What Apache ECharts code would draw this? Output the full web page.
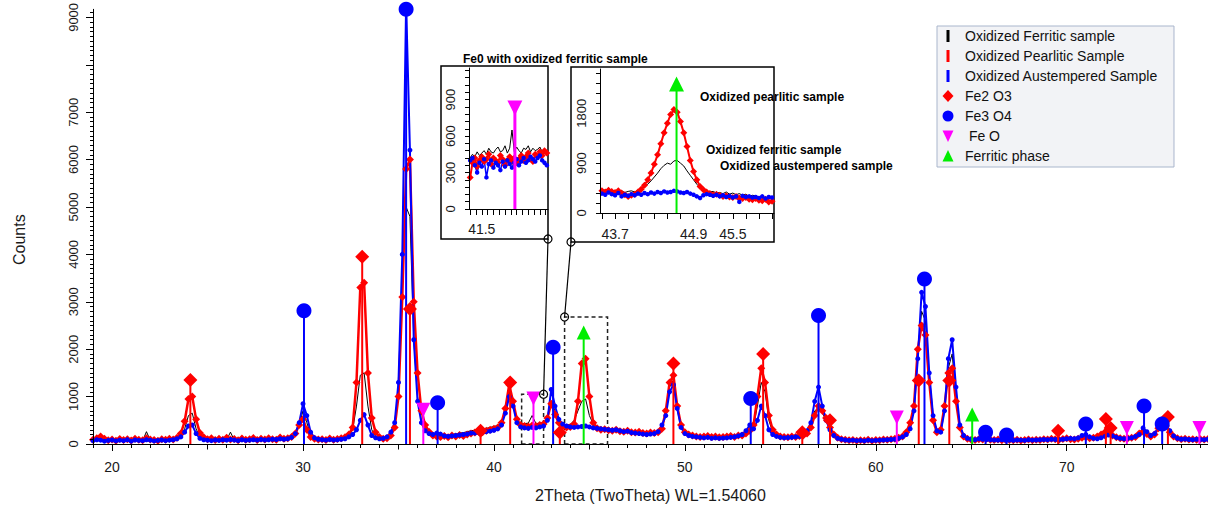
<!DOCTYPE html>
<html>
<head>
<meta charset="utf-8">
<script src="https://cdn.jsdelivr.net/npm/echarts@6/dist/echarts.min.js"></script>
<style>
    html, body { margin: 0; padding: 0; background: #fff; }
    #xrd { width: 1208px; height: 508px; }
</style>
</head>
<body>
<div id="xrd"></div>
<script>
// scans are sampled on a regular 2theta grid
var scanStart = 19.0;
var scanStep = 0.2;

var ferriticCounts = [
    70, 80, 75, 65, 80, 70, 85, 75, 70, 80,
    75, 80, 90, 70, 260, 80, 75, 70, 85, 80,
    85, 90, 100, 160, 320, 600, 650, 320, 150, 90,
    80, 85, 75, 90, 80, 85, 250, 80, 75, 85,
    80, 85, 90, 85, 80, 95, 90, 100, 95, 100,
    100, 110, 130, 200, 400, 700, 450, 200, 120, 100,
    90, 85, 95, 90, 100, 110, 120, 170, 300, 800,
    1450, 1500, 800, 300, 160, 120, 110, 130, 200, 400,
    1200, 3500, 5000, 4800, 2200, 1000, 500, 300, 230, 200,
    210, 200, 180, 190, 200, 210, 230, 240, 260, 280,
    290, 300, 310, 330, 350, 370, 390, 450, 700, 1100,
    850, 500, 420, 430, 440, 600, 430, 440, 450, 550,
    900, 700, 500, 420, 400, 410, 500, 700, 900, 950,
    600, 420, 380, 340, 320, 310, 300, 290, 280, 270,
    270, 260, 250, 240, 230, 230, 240, 250, 280, 350,
    650, 1200, 1350, 750, 380, 230, 190, 170, 160, 150,
    140, 145, 135, 140, 130, 135, 140, 150, 160, 180,
    200, 250, 330, 380, 800, 1300, 1100, 500, 250, 180,
    150, 140, 145, 150, 160, 170, 190, 250, 400, 700,
    750, 650, 500, 320, 190, 120, 95, 85, 80, 85,
    75, 80, 70, 85, 75, 80, 85, 90, 95, 100,
    105, 125, 155, 230, 400, 750, 1900, 2800, 2600, 1400,
    550, 260, 280, 750, 1600, 1900, 1000, 380, 170, 115,
    95, 90, 105, 95, 100, 90, 85, 90, 85, 90,
    80, 80, 85, 80, 80, 90, 85, 85, 90, 95,
    95, 105, 100, 95, 100, 115, 110, 105, 120, 150,
    170, 140, 125, 130, 170, 210, 200, 170, 140, 120,
    110, 120, 130, 155, 210, 300, 230, 170, 210, 340,
    450, 400, 260, 165, 120, 100, 105, 95, 95, 100,
    95, 95, 100
];

var pearliticCounts = [
    90, 120, 160, 110, 80, 95, 70, 105, 85, 100,
    75, 110, 90, 80, 120, 95, 85, 70, 100, 90,
    110, 95, 130, 220, 480, 950, 1000, 520, 230, 140,
    100, 120, 85, 110, 90, 130, 95, 105, 80, 115,
    90, 100, 125, 85, 110, 95, 120, 100, 90, 135,
    110, 120, 150, 220, 400, 520, 300, 150, 110, 95,
    100, 85, 115, 90, 105, 120, 140, 200, 350, 1300,
    3300, 3400, 1500, 550, 250, 150, 110, 120, 180, 350,
    1000, 3100, 5800, 6000, 3000, 1500, 700, 400, 260, 180,
    160, 150, 170, 140, 180, 160, 190, 170, 200, 220,
    240, 260, 250, 280, 300, 320, 350, 450, 750, 1250,
    900, 520, 400, 380, 370, 390, 380, 400, 420, 550,
    850, 620, 450, 380, 350, 360, 420, 900, 1700, 1800,
    1000, 450, 330, 300, 310, 290, 280, 300, 270, 260,
    280, 250, 240, 260, 230, 220, 240, 230, 250, 320,
    700, 1300, 1450, 800, 400, 250, 200, 180, 160, 150,
    160, 170, 150, 160, 140, 150, 160, 170, 150, 180,
    180, 220, 280, 400, 1000, 1600, 1300, 600, 300, 200,
    160, 150, 140, 160, 150, 170, 180, 220, 350, 600,
    800, 700, 550, 350, 200, 130, 100, 90, 80, 85,
    70, 80, 75, 90, 70, 85, 80, 95, 90, 100,
    110, 130, 160, 250, 450, 800, 2000, 2500, 2300, 1300,
    500, 250, 300, 800, 1500, 1600, 900, 350, 160, 110,
    90, 85, 100, 95, 110, 90, 85, 95, 80, 90,
    85, 80, 90, 75, 85, 95, 80, 90, 85, 100,
    95, 110, 100, 90, 105, 120, 100, 95, 110, 130,
    140, 120, 130, 160, 200, 250, 230, 180, 140, 120,
    110, 120, 130, 150, 220, 260, 210, 160, 200, 330,
    420, 380, 250, 160, 120, 100, 110, 95, 100, 90,
    100, 95, 105
];

var austemperedCounts = [
    70, 90, 80, 60, 75, 85, 65, 80, 70, 90,
    60, 85, 75, 70, 90, 80, 65, 75, 85, 70,
    80, 90, 110, 150, 250, 380, 400, 220, 120, 90,
    80, 70, 85, 75, 90, 80, 95, 85, 70, 90,
    75, 85, 90, 80, 95, 85, 90, 100, 95, 110,
    100, 110, 140, 220, 450, 850, 600, 250, 130, 100,
    90, 80, 95, 85, 90, 100, 110, 150, 200, 300,
    500, 620, 400, 180, 130, 110, 120, 150, 250, 450,
    1300, 4000, 9300, 6200, 2200, 900, 450, 280, 220, 200,
    230, 210, 170, 160, 170, 180, 190, 200, 210, 230,
    230, 240, 250, 260, 270, 290, 320, 400, 650, 1000,
    800, 450, 360, 340, 330, 350, 340, 360, 380, 500,
    1150, 800, 520, 420, 380, 360, 350, 360, 370, 380,
    360, 340, 330, 320, 310, 300, 290, 300, 280, 260,
    270, 240, 230, 220, 210, 200, 210, 220, 260, 400,
    600, 1100, 1250, 750, 350, 220, 180, 160, 150, 140,
    130, 140, 120, 130, 120, 125, 130, 140, 150, 170,
    200, 280, 400, 320, 500, 800, 600, 300, 200, 160,
    140, 130, 135, 140, 150, 160, 200, 280, 450, 900,
    1200, 800, 500, 300, 180, 120, 100, 85, 75, 80,
    70, 75, 65, 80, 70, 75, 80, 85, 90, 95,
    100, 120, 150, 200, 320, 700, 1800, 3200, 2900, 1500,
    600, 280, 250, 700, 1800, 2200, 1200, 400, 180, 120,
    100, 90, 110, 100, 95, 90, 85, 80, 90, 85,
    80, 75, 85, 80, 75, 90, 80, 85, 90, 95,
    90, 100, 95, 90, 100, 110, 120, 110, 130, 180,
    200, 150, 120, 110, 130, 160, 190, 170, 140, 120,
    110, 120, 130, 160, 200, 340, 260, 180, 220, 350,
    480, 420, 280, 170, 120, 100, 105, 95, 90, 100,
    95, 90, 100
];

// phase identification marks [2theta, counts]
var fe2o3Peaks = [[24.1, 1350], [33.1, 3950], [35.6, 2850], [39.3, 280], [40.85, 1300], [43.45, 240],
    [49.4, 1700], [54.1, 1900], [56.15, 250], [57.6, 500], [62.25, 1340], [63.85, 1340],
    [69.55, 280], [72.05, 530], [72.3, 340], [75.3, 570]];
var fe3o4Peaks = [[30.05, 2810], [35.4, 9170], [37.05, 870], [43.1, 2040], [53.45, 960],
    [57.0, 2710], [62.55, 3480], [65.75, 250], [66.85, 190], [71.0, 420], [74.05, 800], [75.0, 420]];
var feoPeaks = [[36.3, 720], [42.07, 960], [61.1, 560], [73.15, 340], [76.95, 340]];
var ferritePeaks = [[44.7, 2350], [65.05, 620]];

// inset 1: FeO region of the ferritic sample
var inset1Start = 41.30;
var inset1Step = 0.04;
var inset1Ferritic = [420, 450, 430, 470, 440, 460, 480, 450, 500, 470, 460, 490, 510, 470, 480, 520, 460,
    500, 650, 470, 510, 480, 460, 500, 490, 520, 470, 500, 480, 490, 510, 470, 480, 460];
var inset1Pearlitic = [260, 380, 420, 350, 400, 430, 390, 410, 450, 370, 420, 400, 380, 440, 410, 360, 400,
    430, 390, 420, 380, 410, 440, 400, 430, 460, 420, 390, 450, 430, 470, 440, 480, 460];
var inset1Austempered = [400, 420, 360, 300, 380, 350, 410, 260, 370, 400, 340, 380, 360, 320, 390, 350, 400,
    370, 340, 380, 410, 360, 390, 420, 380, 400, 430, 410, 390, 420, 440, 400, 380, 360];
var inset1FeO = [[42.07, 830]];

// inset 2: ferrite (110) region
var inset2Start = 43.50;
var inset2Step = 0.05;
var inset2Ferritic = [380, 420, 400, 390, 410, 380, 400, 370, 390, 400, 380,
    410, 430, 470, 520, 580, 650, 720, 800, 860, 900,
    880, 940, 950, 900, 850, 760, 680, 600, 520, 460,
    420, 400, 380, 390, 360, 370, 350, 380, 340, 360, 330, 350, 320, 340, 300, 320, 310, 290, 300, 280, 290, 270];
var inset2Pearlitic = [400, 380, 410, 390, 370, 400, 360, 330, 300, 320, 340,
    380, 430, 500, 600, 720, 880, 1050, 1250, 1450, 1620,
    1780, 1870, 1820, 1650, 1450, 1200, 950, 750, 600, 480,
    420, 380, 350, 330, 340, 320, 300, 310, 290, 280, 300, 270, 260, 280, 250, 240, 260, 230, 220, 250, 200, 210];
var inset2Austempered = [350, 330, 370, 340, 320, 360, 300, 330, 310, 340,
    320, 350, 330, 360, 340, 370, 350, 380, 360, 390,
    370, 380, 400, 390, 370, 360, 380, 350, 330, 300,
    270, 320, 340, 330, 310, 330, 300, 320, 290, 310,
    280, 300, 200, 310, 290, 300, 280, 290, 270, 300,
    260, 290, 280];
var inset2Ferrite = [[44.64, 2330]];

// zoomed windows drawn on the main pattern: [from, to, top counts]
var zoomBoxes = [[41.45, 42.6, 1050], [43.7, 45.95, 2680]];

var xLabels = [20, 30, 40, 50, 60, 70];
var xHalfTicks = [25, 35, 45, 55, 65, 75];
var yLabels = [0, 1000, 2000, 3000, 4000, 5000, 6000, 7000, 9000];
var yMajorTicks = [0, 1000, 2000, 3000, 4000, 5000, 6000, 7000, 8000, 9000];
var inset1XLabels = [41.5];
var inset1YLabels = [0, 300, 600, 900];
var inset2XLabels = [43.7, 44.9, 45.5];
var inset2YLabels = [0, 900, 1800];

var FONT = "'Liberation Sans', Arial, sans-serif";

function toSeriesData(start, step, counts) {
    var out = [];
    for (var i = 0; i < counts.length; i++) {
        out.push([Math.round((start + i * step) * 1000) / 1000, counts[i]]);
    }
    return out;
}

function range(from, to, step) {
    var out = [];
    var n = Math.round((to - from) / step);
    for (var i = 0; i <= n; i++) {
        out.push(Math.round((from + i * step) * 1000) / 1000);
    }
    return out;
}

function sticks(peaks, color) {
    return peaks.map(function(p) {
        return { value: p, itemStyle: { color: color } };
    });
}

function lineSeries(name, data, color, symbol, size, width, xi, yi) {
    return {
        name: name,
        type: "line",
        xAxisIndex: xi,
        yAxisIndex: yi,
        data: data,
        symbol: symbol,
        symbolSize: size,
        showSymbol: symbol != "none",
        color: color,
        lineStyle: { color: color, width: width },
        itemStyle: { color: color },
        z: 2,
    };
}

function markerSeries(name, data, color, symbol, size, rotate, xi, yi) {
    return {
        name: name,
        type: "scatter",
        xAxisIndex: xi,
        yAxisIndex: yi,
        data: data,
        symbol: symbol,
        symbolSize: size,
        symbolRotate: rotate,
        clip: false,
        color: color,
        itemStyle: { color: color, opacity: 1 },
        z: 5,
    };
}

function stickSeries(name, data, width, xi, yi) {
    return {
        name: name,
        type: "bar",
        xAxisIndex: xi,
        yAxisIndex: yi,
        data: data,
        barWidth: width,
        z: 4,
    };
}

function valueAxis(grid, min, max, tickVals, tickLen, labelVals, opts) {
    var ax = {
        type: "value",
        gridIndex: grid,
        min: min,
        max: max,
        z: 6,
        splitLine: { show: false },
        axisLine: { show: true, lineStyle: { color: "#000", width: 1 } },
        axisTick: { show: true, customValues: tickVals, length: tickLen, lineStyle: { color: "#000" } },
        axisLabel: labelVals ?
            {
                show: true,
                customValues: labelVals,
                color: "#1a1a1a",
                fontFamily: FONT,
                fontSize: 13,
                formatter: function(v) { return String(v); },
            } :
            { show: false },
    };
    for (var k in opts) ax[k] = opts[k];
    return ax;
}

// legend icons; the outer moveTo points only fix the icon box
var barIcon = "path://M0,0M18,13M4.5,0.5L7.5,0.5L7.5,12.5L4.5,12.5Z";
var diamondIcon = "path://M0,0M18,13M6,0.5L11.5,6.5L6,12.5L0.5,6.5Z";
var circleIcon = "path://M0,0M18,13M0.5,6.5A5.5,5.5,0,1,0,11.5,6.5A5.5,5.5,0,1,0,0.5,6.5Z";
var downIcon = "path://M0,0M18,13M0.5,1L11.5,1L6,12.5Z";
var upIcon = "path://M0,0M18,13M6,0.5L11.5,12L0.5,12Z";

var myChart = echarts.init(document.getElementById("xrd"), null, { renderer: "svg" });

var xMain = valueAxis(0, 19, 77.4, range(19, 77, 1), 4, xLabels, {
    name: "2Theta (TwoTheta) WL=1.54060",
    nameLocation: "middle",
    nameGap: 43,
    nameTextStyle: { fontFamily: FONT, fontSize: 16, color: "#1a1a1a" },
});
xMain.axisLabel.fontSize = 14;
xMain.axisLabel.margin = 16;

var xMainMajor = valueAxis(0, 19, 77.4, xLabels, 7, null, { position: "bottom" });
xMainMajor.axisLine.show = false;
var xMainHalf = valueAxis(0, 19, 77.4, xHalfTicks, 5.5, null, { position: "bottom" });
xMainHalf.axisLine.show = false;

var yMain = valueAxis(0, 0, 9170, range(0, 9100, 100), 3, yLabels, {
    name: "Counts",
    nameLocation: "middle",
    nameGap: 66,
    nameTextStyle: { fontFamily: FONT, fontSize: 16, color: "#1a1a1a", padding: [0, 26, 0, 0] },
});
yMain.axisLabel.rotate = 90;
yMain.axisLabel.margin = 13;

var yMainMajor = valueAxis(0, 0, 9170, yMajorTicks, 7, null, { position: "left" });
yMainMajor.axisLine.show = false;

var xIn1 = valueAxis(1, 41.28, 42.64, range(41.3, 42.6, 0.1), 6, inset1XLabels, {});
xIn1.axisLabel.fontSize = 14;
xIn1.axisLabel.margin = 13;
var yIn1 = valueAxis(1, 0, 1160, range(0, 1140, 60), 4, inset1YLabels, {});
yIn1.axisLabel.rotate = 90;
yIn1.axisLabel.margin = 12;

var xIn2 = valueAxis(2, 43.47, 46.13, range(43.5, 46.1, 0.2), 6, inset2XLabels, {});
xIn2.axisLabel.fontSize = 14;
xIn2.axisLabel.margin = 14;
var yIn2 = valueAxis(2, 0, 2600, range(0, 2520, 180), 4, inset2YLabels, {});
yIn2.axisLabel.rotate = 90;
yIn2.axisLabel.margin = 12;

var ferritic = lineSeries("Oxidized Ferritic sample", toSeriesData(scanStart, scanStep, ferriticCounts), "#000000", "none", 0, 1, 0, 0);
ferritic.markArea = {
    silent: true,
    label: { show: false },
    itemStyle: { color: "rgba(0,0,0,0)", borderColor: "#222", borderWidth: 1.5, borderType: [4, 3] },
    data: zoomBoxes.map(function(b) {
        return [{ coord: [b[0], 0] }, { coord: [b[1], b[2]] }];
    }),
};

var mainSticks = []
    .concat(sticks(fe2o3Peaks, "#ff0000"))
    .concat(sticks(fe3o4Peaks, "#0000ff"))
    .concat(sticks(feoPeaks, "#ff00ff"))
    .concat(sticks(ferritePeaks, "#00ee00"));

option = {
    animation: false,
    backgroundColor: "#ffffff",
    textStyle: { fontFamily: FONT },
    grid: [
        { left: 93, top: 8, right: 0, bottom: 60 },
        { left: 469, top: 68, width: 79, height: 141 },
        { left: 600, top: 69, width: 174, height: 144 },
    ],
    xAxis: [xMain, xMainMajor, xIn1, xIn2, xMainHalf],
    yAxis: [yMain, yMainMajor, yIn1, yIn2],
    legend: {
        orient: "vertical",
        left: 937,
        top: 26,
        padding: [3, 16, 4, 5],
        itemWidth: 18,
        itemHeight: 13,
        itemGap: 6,
        selectedMode: false,
        backgroundColor: "#f2f3f6",
        borderColor: "#a9b6cc",
        borderWidth: 1,
        textStyle: { fontFamily: FONT, fontSize: 14, color: "#111" },
        data: [
            { name: "Oxidized Ferritic sample", icon: barIcon },
            { name: "Oxidized Pearlitic Sample", icon: barIcon },
            { name: "Oxidized Austempered Sample", icon: barIcon },
            { name: "Fe2 O3", icon: diamondIcon },
            { name: "Fe3 O4", icon: circleIcon },
            { name: " Fe O", icon: downIcon },
            { name: "Ferritic phase", icon: upIcon },
        ],
    },
    series: [
        ferritic,
        lineSeries("Oxidized Pearlitic Sample", toSeriesData(scanStart, scanStep, pearliticCounts), "#ff0000", "diamond", 8, 2.5, 0, 0),
        lineSeries("Oxidized Austempered Sample", toSeriesData(scanStart, scanStep, austemperedCounts), "#0000ff", "circle", 5, 2, 0, 0),
        stickSeries("reference lines", mainSticks, 2, 0, 0),
        markerSeries("Fe2 O3", fe2o3Peaks, "#ff0000", "diamond", 14, 0, 0, 0),
        markerSeries("Fe3 O4", fe3o4Peaks, "#0000ff", "circle", 15, 0, 0, 0),
        markerSeries(" Fe O", feoPeaks, "#ff00ff", "triangle", 14, 180, 0, 0),
        markerSeries("Ferritic phase", ferritePeaks, "#00ee00", "triangle", 14, 0, 0, 0),

        lineSeries("inset1 ferritic", toSeriesData(inset1Start, inset1Step, inset1Ferritic), "#000000", "none", 0, 1, 2, 2),
        lineSeries("inset1 pearlitic", toSeriesData(inset1Start, inset1Step, inset1Pearlitic), "#ff0000", "diamond", 7, 2, 2, 2),
        lineSeries("inset1 austempered", toSeriesData(inset1Start, inset1Step, inset1Austempered), "#0000ff", "circle", 4.5, 1.5, 2, 2),
        stickSeries("inset1 line", sticks(inset1FeO, "#ff00ff"), 3, 2, 2),
        markerSeries("inset1 FeO", inset1FeO, "#ff00ff", "triangle", 15, 180, 2, 2),

        lineSeries("inset2 ferritic", toSeriesData(inset2Start, inset2Step, inset2Ferritic), "#000000", "none", 0, 1, 3, 3),
        lineSeries("inset2 pearlitic", toSeriesData(inset2Start, inset2Step, inset2Pearlitic), "#ff0000", "diamond", 7, 2, 3, 3),
        lineSeries("inset2 austempered", toSeriesData(inset2Start, inset2Step, inset2Austempered), "#0000ff", "circle", 4.5, 1.5, 3, 3),
        stickSeries("inset2 line", sticks(inset2Ferrite, "#00ee00"), 2, 3, 3),
        markerSeries("inset2 ferrite", inset2Ferrite, "#00ee00", "triangle", 15, 0, 3, 3),
    ],
};
myChart.setOption(option);

// frames, notes and leader lines of the two insets
var box1 = { x: 441, y: 66, w: 107, h: 173 };
var box2 = { x: 571, y: 67, w: 203, h: 175 };
var corner1 = myChart.convertToPixel({ seriesIndex: 0 }, [zoomBoxes[0][1], zoomBoxes[0][2]]);
var corner2 = myChart.convertToPixel({ seriesIndex: 0 }, [zoomBoxes[1][0], zoomBoxes[1][2]]);
var from1 = [box1.x + box1.w, box1.y + box1.h];
var from2 = [box2.x, box2.y + box2.h];

function frame(b) {
    return {
        type: "rect",
        z: 1,
        shape: { x: b.x, y: b.y, width: b.w, height: b.h },
        style: { fill: "#fff", stroke: "#000", lineWidth: 1.5 },
    };
}

function note(text, x, y) {
    return {
        type: "text",
        z: 20,
        x: x,
        y: y,
        style: { text: text, fill: "#000", font: "bold 12px " + FONT, textVerticalAlign: "middle" },
    };
}

function ring(p) {
    return {
        type: "circle",
        z: 20,
        shape: { cx: p[0], cy: p[1], r: 4 },
        style: { fill: "none", stroke: "#000", lineWidth: 1.2 },
    };
}

function leader(a, b) {
    return {
        type: "line",
        z: 19,
        shape: { x1: a[0], y1: a[1], x2: b[0], y2: b[1] },
        style: { stroke: "#000", lineWidth: 1.2 },
    };
}

myChart.setOption({
    graphic: {
        elements: [
            frame(box1),
            frame(box2),
            note("Fe0 with oxidized ferritic sample", 463, 59),
            note("Oxidized pearlitic sample", 700, 97),
            note("Oxidized ferritic sample", 706, 150),
            note("Oxidized austempered sample", 720, 166),
            leader(from1, corner1),
            leader(from2, corner2),
            ring(from1),
            ring(from2),
            ring(corner1),
            ring(corner2),
        ],
    },
});
</script>
</body>
</html>
